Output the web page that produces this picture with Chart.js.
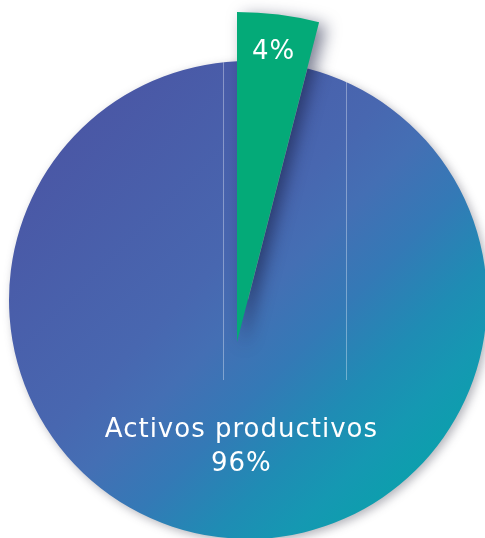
<!DOCTYPE html>
<html lang="es">
<head>
    <meta charset="UTF-8">
    <title>Activos productivos</title>
    <script src="https://cdn.jsdelivr.net/npm/chart.js"></script>
    <style>
        html, body {
            margin: 0;
            padding: 0;
            width: 485px;
            height: 538px;
            overflow: hidden;
            background: #ffffff;
        }
        .layer {
            position: absolute;
            left: 0;
            top: 0;
        }
        #wrapMain { width: 496px; height: 600px; }
        #wrapSlice { width: 474px; height: 684px; }
    </style>
</head>
<body>
    <div class="layer" id="wrapMain"><canvas id="mainChart"></canvas></div>
    <div class="layer" id="wrapSlice"><canvas id="sliceChart"></canvas></div>

    <script>
        // datos
        const categories = ['Otros', 'Activos productivos'];
        const values = [4, 96];
        const labelText = ['4%', ['Activos productivos', '96%']];

        const FONT = '"DejaVu Sans", sans-serif';

        // degradado del sector grande (azul -> turquesa)
        function bigGradient(ctx) {
            const g = ctx.createLinearGradient(100, 100, 480, 480);
            g.addColorStop(0, '#4a57a5');
            g.addColorStop(0.37, '#4867b0');
            g.addColorStop(0.47, '#446fb4');
            g.addColorStop(0.59, '#3479b6');
            g.addColorStop(0.72, '#1f8cb4');
            g.addColorStop(0.82, '#1598b2');
            g.addColorStop(1, '#04a6a8');
            return g;
        }

        // sombra suave bajo los sectores
        const shadowPlugin = {
            id: 'shadow',
            beforeDatasetsDraw(chart, args, opts) {
                const ctx = chart.ctx;
                ctx.save();
                ctx.shadowColor = opts.color;
                ctx.shadowBlur = opts.blur;
                ctx.shadowOffsetX = opts.dx;
                ctx.shadowOffsetY = opts.dy;
            },
            afterDatasetsDraw(chart) {
                chart.ctx.restore();
            }
        };

        // líneas verticales finas sobre el círculo
        const guideLines = {
            id: 'guideLines',
            afterDatasetsDraw(chart, args, opts) {
                if (!opts.xs) return;
                const arc = chart.getDatasetMeta(0).data[1];
                const ctx = chart.ctx;
                ctx.save();
                ctx.strokeStyle = 'rgba(255,255,255,0.35)';
                ctx.lineWidth = 1;
                opts.xs.forEach(dx => {
                    const x = arc.x + dx;
                    const top = arc.y - Math.sqrt(arc.outerRadius * arc.outerRadius - dx * dx);
                    ctx.beginPath();
                    ctx.moveTo(x + 0.5, top);
                    ctx.lineTo(x + 0.5, arc.y + opts.bottom);
                    ctx.stroke();
                });
                ctx.restore();
            }
        };

        // etiquetas de los sectores
        const sliceLabels = {
            id: 'sliceLabels',
            afterDraw(chart, args, opts) {
                const ctx = chart.ctx;
                const meta = chart.getDatasetMeta(0);
                ctx.save();
                ctx.fillStyle = '#ffffff';
                ctx.textAlign = 'center';
                ctx.textBaseline = 'middle';
                ctx.letterSpacing = '1px';
                opts.items.forEach(item => {
                    const arc = meta.data[item.index];
                    const mid = (arc.startAngle + arc.endAngle) / 2;
                    const r = arc.outerRadius * item.factor;
                    const x = arc.x + Math.cos(mid) * r + (item.dx || 0);
                    const y = arc.y + Math.sin(mid) * r;
                    const lines = [].concat(labelText[item.index]);
                    ctx.font = item.size + 'px ' + FONT;
                    lines.forEach((t, i) => {
                        ctx.fillText(t, x, y + (i - (lines.length - 1) / 2) * item.lineHeight);
                    });
                });
                ctx.restore();
            }
        };

        Chart.register(shadowPlugin, guideLines, sliceLabels);

        // círculo principal (96%)
        new Chart(document.getElementById('mainChart'), {
            type: 'pie',
            data: {
                labels: categories,
                datasets: [{
                    data: values,
                    backgroundColor: ctx => ctx.dataIndex === 1 ? bigGradient(ctx.chart.ctx) : 'rgba(0,0,0,0)',
                    borderWidth: 0,
                    clip: false
                }]
            },
            options: {
                responsive: true,
                maintainAspectRatio: false,
                animation: false,
                radius: 239,
                rotation: 0,
                plugins: {
                    legend: { display: false },
                    tooltip: { enabled: false },
                    shadow: { color: 'rgba(40,40,60,0.35)', blur: 10, dx: 3, dy: 3 },
                    guideLines: { xs: [-25, 98], bottom: 80 },
                    sliceLabels: { items: [{ index: 1, factor: 0.62, dx: 12, size: 26, lineHeight: 34 }] }
                }
            }
        });

        // sector desplazado (4%)
        new Chart(document.getElementById('sliceChart'), {
            type: 'pie',
            data: {
                labels: categories,
                datasets: [{
                    data: values,
                    backgroundColor: ['#04aa78', 'rgba(0,0,0,0)'],
                    borderWidth: 0,
                    clip: false
                }]
            },
            options: {
                responsive: true,
                maintainAspectRatio: false,
                animation: false,
                radius: 330,
                rotation: 0,
                plugins: {
                    legend: { display: false },
                    tooltip: { enabled: false },
                    shadow: { color: 'rgba(20,25,60,0.55)', blur: 16, dx: 7, dy: 4 },
                    guideLines: {},
                    sliceLabels: { items: [{ index: 0, factor: 0.885, size: 26, lineHeight: 30 }] }
                }
            }
        });
    </script>
</body>
</html>
